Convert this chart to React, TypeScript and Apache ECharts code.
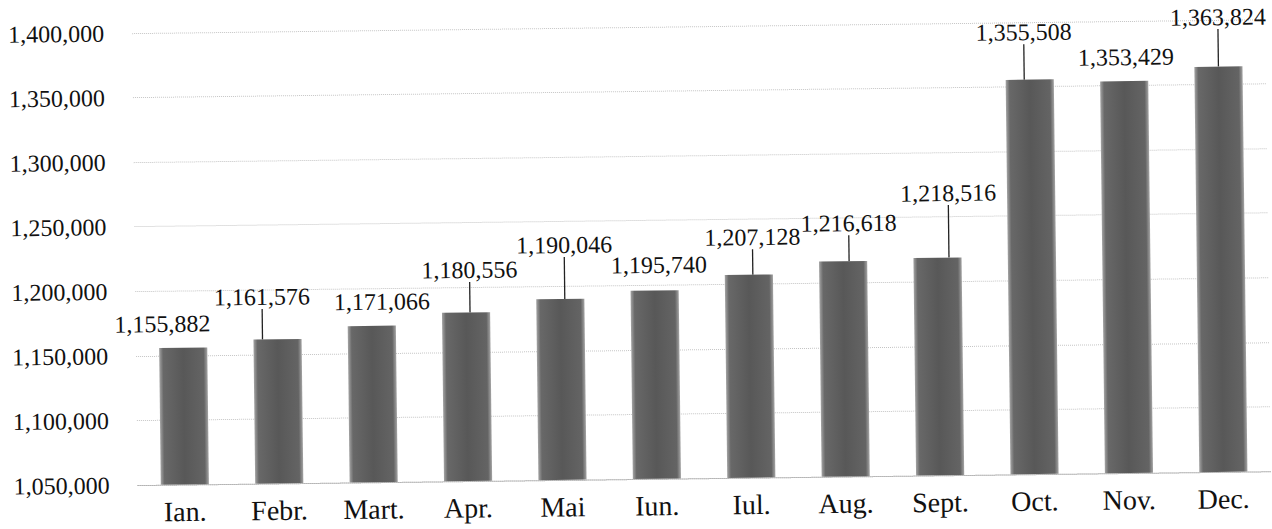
import { useEffect, useRef } from "react";
import * as echarts from "echarts";

const categories = ["Ian.", "Febr.", "Mart.", "Apr.", "Mai", "Iun.", "Iul.", "Aug.", "Sept.", "Oct.", "Nov.", "Dec."];
const values = [1155882, 1161576, 1171066, 1180556, 1190046, 1195740, 1207128, 1216618, 1218516, 1355508, 1353429, 1363824];
const yMin = 1050000;
const yMax = 1400000;
const yStep = 50000;

// label placement relative to bar top-centre (px) and whether a leader line is drawn
const labelDX = [-20.5, -15, 10.5, 4, 4.5, 4.5, 4, 6, 11.5, -5.5, 2, 0];
const labelDY = [-24, -42.5, -24, -42.5, -54, -25.5, -37.5, -38, -64.5, -47.5, -24, -49.5];
const leader = [false, true, false, true, true, false, true, true, true, true, false, true];

const FONT = '"Liberation Serif", "Times New Roman", serif';
const fmt = (v: number) => String(Math.round(v)).replace(/\B(?=(\d{3})+(?!\d))/g, ",");

export default function App() {
  const ref = useRef<HTMLDivElement>(null);
  useEffect(() => {
    if (!ref.current) return;
    const chart = echarts.init(ref.current, null, { renderer: "svg" });
    const barGrad = new echarts.graphic.LinearGradient(0, 0, 1, 0, [
      { offset: 0, color: "#a4a4a4" },
      { offset: 0.08, color: "#686868" },
      { offset: 0.5, color: "#585858" },
      { offset: 0.92, color: "#646464" },
      { offset: 1, color: "#a4a4a4" },
    ]);
    chart.setOption({
      animation: false,
      backgroundColor: "#ffffff",
      grid: { left: 135, right: 4, top: 27, bottom: 50, containLabel: false },
      xAxis: {
        type: "category",
        data: categories,
        axisTick: { show: false },
        axisLine: { show: true, lineStyle: { color: "#b0b0b0", width: 1, type: "dotted" } },
        axisLabel: { color: "#111", fontFamily: FONT, fontSize: 28, margin: 13 },
        splitLine: { show: false },
      },
      yAxis: {
        type: "value",
        min: yMin,
        max: yMax,
        interval: yStep,
        axisLine: { show: false },
        axisTick: { show: false },
        axisLabel: { color: "#111", fontFamily: FONT, fontSize: 24, margin: 28, formatter: (v: number) => fmt(v) },
        splitLine: { show: true, lineStyle: { color: "#c4c4c4", width: 1, type: "dotted" } },
      },
      series: [
        {
          type: "bar",
          barWidth: "51%",
          data: values.map((v, i) => ({
            value: v,
            labelLine: { show: leader[i] },
          })),
          itemStyle: { color: barGrad },
          label: {
            show: true,
            position: "top",
            color: "#111",
            fontFamily: FONT,
            fontSize: 24,
            formatter: (p: any) => fmt(p.value),
          },
          labelLine: { show: true, lineStyle: { color: "#222", width: 1.3 } },
          labelLayout: (p: any) => {
            const r = p.rect;
            const top = Math.min(r.y, r.y + r.height);
            const cx = r.x + r.width / 2;
            return {
              x: cx + labelDX[p.dataIndex],
              y: top + labelDY[p.dataIndex],
              align: "center",
              verticalAlign: "middle",
            };
          },
        },
      ],
    });
    return () => chart.dispose();
  }, []);
  return (
    <div
      ref={ref}
      style={{
        position: "absolute",
        left: 0,
        top: 0,
        width: 1272,
        height: 529,
        transform: "rotate(-0.7deg)",
        transformOrigin: "50% 50%",
      }}
    />
  );
}
